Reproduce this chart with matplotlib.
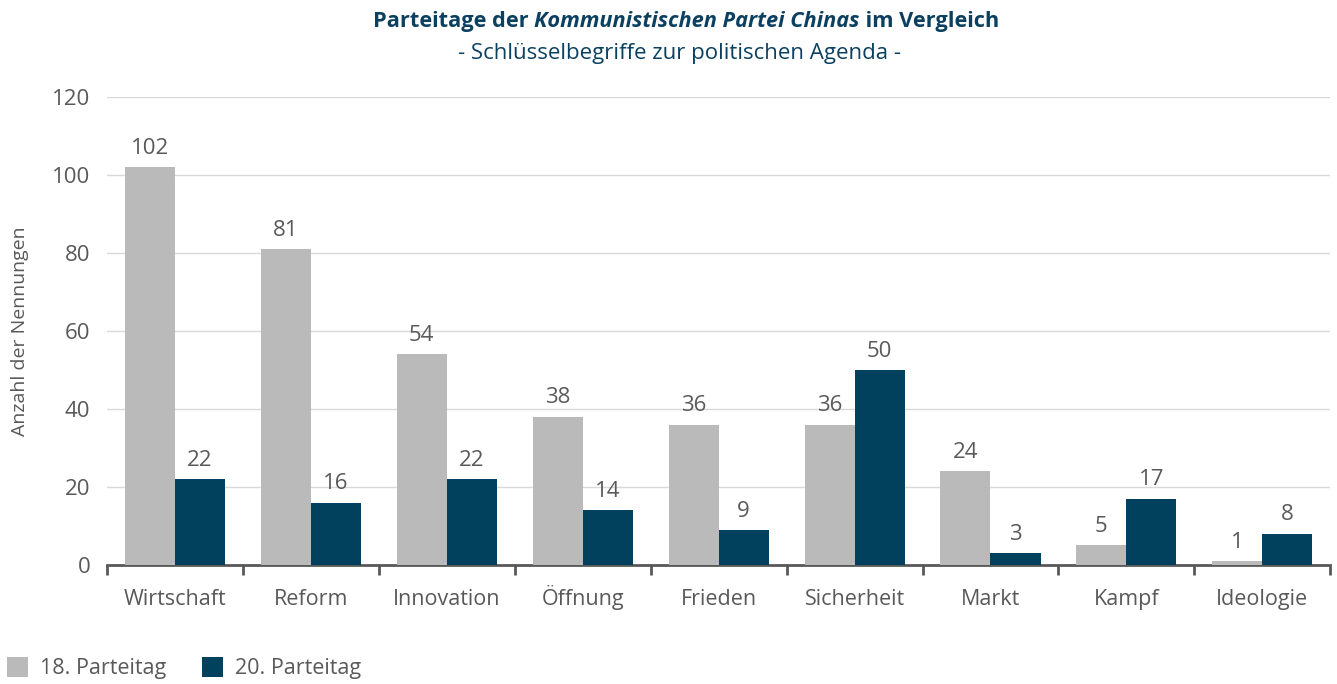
import matplotlib.pyplot as plt
import numpy as np

plt.rcParams['font.family'] = ['Open Sans', 'DejaVu Sans']

categories = ['Wirtschaft', 'Reform', 'Innovation', 'Öffnung', 'Frieden',
              'Sicherheit', 'Markt', 'Kampf', 'Ideologie']
parteitag_18 = [102, 81, 54, 38, 36, 36, 24, 5, 1]
parteitag_20 = [22, 16, 22, 14, 9, 50, 3, 17, 8]

gray = '#BBBABA'
navy = '#01415E'
text_col = '#595959'
title_col = '#0B4060'

fig = plt.figure(figsize=(13.37, 6.84), dpi=100)
ax = fig.add_axes([0.080, 0.174, 0.915, 0.684])

x = np.arange(len(categories))
w = 0.368
b1 = ax.bar(x - w / 2, parteitag_18, w, color=gray, label='18. Parteitag', zorder=3)
b2 = ax.bar(x + w / 2, parteitag_20, w, color=navy, label='20. Parteitag', zorder=3)

for bars in (b1, b2):
    ax.bar_label(bars, padding=6, fontsize=16, color=text_col)

ax.set_ylim(0, 120)
ax.set_xlim(-0.5, len(categories) - 0.5)
ax.set_yticks(range(0, 121, 20))
ax.yaxis.grid(True, color='#D9D9D9', linewidth=1, zorder=0)
ax.tick_params(axis='y', length=0, labelsize=16, labelcolor=text_col, pad=12)

ax.set_xticks(x)
ax.set_xticklabels(categories)
ax.tick_params(axis='x', length=0, labelsize=15.5, labelcolor=text_col, pad=29)
for lab in ax.get_xticklabels():
    lab.set_va('baseline')
ax.set_xticks(np.arange(-0.5, len(categories)), minor=True)
ax.tick_params(axis='x', which='minor', length=7, width=2, color='#595959', direction='out')

for s in ['top', 'right', 'left']:
    ax.spines[s].set_visible(False)
ax.spines['bottom'].set_color('#595959')
ax.spines['bottom'].set_linewidth(2)

ax.set_ylabel('Anzahl der Nennungen', fontsize=14, color=text_col)
ax.yaxis.set_label_coords(-0.064, 0.5)

# title with italic middle part
ty = 0.968
t1 = fig.text(0, ty, 'Parteitage der ', fontsize=15.7, fontweight='bold', color=title_col, va='center')
t2 = fig.text(0, ty, 'Kommunistischen Partei Chinas', fontsize=15.7, fontweight='bold',
              style='italic', color=title_col, va='center')
t3 = fig.text(0, ty, ' im Vergleich', fontsize=15.7, fontweight='bold', color=title_col, va='center')
fig.canvas.draw()
r = fig.canvas.get_renderer()
ws = [t.get_window_extent(r).width for t in (t1, t2, t3)]
cx = 686
pos = cx - sum(ws) / 2
for t, wd in zip((t1, t2, t3), ws):
    t.set_x(pos / 1337)
    pos += wd

fig.text(680 / 1337, 0.922, '- Schlüsselbegriffe zur politischen Agenda -',
         fontsize=16, color=title_col, ha='center', va='center')

fig.legend(loc='center left', bbox_to_anchor=(-0.0095, 0.023), ncol=2, frameon=False,
           fontsize=15.5, labelcolor=text_col, handlelength=1.0, handleheight=1.0,
           columnspacing=1.65, handletextpad=0.55)

fig.savefig('out.png', dpi=100)
